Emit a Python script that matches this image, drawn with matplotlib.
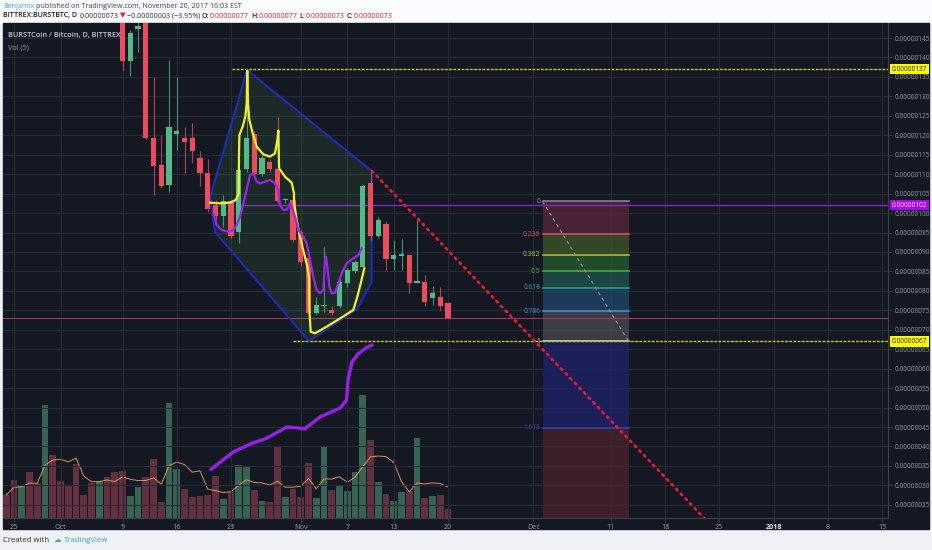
import numpy as np
import pandas as pd
import matplotlib
matplotlib.use("Agg")
import matplotlib.pyplot as plt
from matplotlib.patches import Rectangle, Polygon
from matplotlib.transforms import blended_transform_factory

W, H = 932, 550
plt.rcParams['font.family'] = ['Open Sans', 'DejaVu Sans']

# x axis: day number, 0 = 2017-09-25
tick_days = [0, 6, 14, 21, 28, 37, 43, 49, 56, 67, 77, 84, 91, 98, 105, 112]
tick_labels = ["25", "Oct", "9", "16", "23", "Nov", "7", "13", "20",
               "Dec", "11", "18", "25", "2018", "8", "15"]

# daily candles from Oct 9 (day 14) to Nov 20 (day 56), price in satoshi
c_day = list(range(14, 57))
c_open = [152.0, 139.2, 147.3, 151.0, 119.2, 112.4, 107.2, 120.2, 119.2, 119.2,
          114.1, 110.2, 102.1, 99.2, 103.1, 95.2, 111.2, 120.2, 110.0, 113.2,
          111.2, 103.3, 103.4, 95.2, 88.4, 74.2, 76.1, 75.1, 76.1, 81.9,
          85.2, 86.2, 107.7, 94.1, 97.2, 88.2, 89.0, 89.2, 82.1, 82.2,
          78.1, 78.3, 77.0]
c_high = [154.0, 147.0, 149.0, 152.0, 135.1, 120.1, 139.3, 135.1, 122.2, 123.1,
          116.0, 114.0, 103.4, 104.6, 103.4, 111.5, 136.8, 121.0, 115.0, 114.0,
          124.8, 104.0, 104.0, 96.0, 88.8, 78.5, 91.4, 76.0, 83.0, 86.0,
          88.0, 107.5, 111.0, 99.0, 98.0, 93.1, 93.3, 89.5, 98.2, 84.0,
          81.2, 81.0, 77.0]
c_low = [136.4, 135.2, 141.5, 119.0, 104.6, 106.4, 105.5, 116.2, 110.2, 112.8,
         107.0, 100.4, 98.2, 96.5, 93.5, 92.4, 110.5, 109.5, 109.5, 110.5,
         102.5, 102.5, 92.5, 86.5, 73.5, 74.0, 74.5, 73.8, 75.5, 81.0,
         84.5, 86.0, 93.0, 93.5, 85.4, 85.4, 85.4, 79.4, 82.0, 76.0,
         76.4, 75.1, 73.0]
c_close = [139.2, 146.2, 148.2, 119.3, 112.2, 107.0, 122.2, 121.1, 118.2, 116.0,
           110.2, 101.0, 99.2, 103.1, 94.1, 111.1, 119.2, 110.0, 114.1, 111.2,
           103.1, 103.4, 93.2, 87.3, 74.2, 76.4, 76.4, 74.2, 82.2, 85.4,
           87.3, 107.0, 94.1, 98.2, 88.2, 89.2, 89.1, 82.1, 82.2, 77.1,
           79.4, 76.1, 73.0]

# volume from Sep 24 (day -1) to Nov 20 (relative units)
v_day = list(range(-1, 57))
v_vol = [23.0, 38.3, 32.3, 45.7, 35.0, 113.3, 63.3, 36.7, 32.3, 54.0,
         23.3, 35.0, 37.3, 40.7, 45.7, 47.3, 22.3, 31.3, 40.7, 59.0,
         15.7, 114.7, 49.0, 29.0, 20.7, 22.3, 23.0, 42.0, 19.0, 25.7,
         53.3, 51.3, 28.3, 16.7, 15.7, 71.7, 21.3, 29.0, 20.7, 55.0,
         20.0, 70.7, 28.3, 32.3, 27.3, 45.7, 122.7, 78.0, 36.3, 24.0,
         17.3, 26.3, 27.3, 80.0, 19.7, 22.3, 23.3, 9.3]
v_up = [0, 0, 1, 0, 0, 1, 0, 0, 0, 0,
        0, 0, 1, 0, 0, 0, 1, 1, 0, 0,
        0, 1, 1, 0, 0, 0, 0, 0, 1, 0,
        1, 1, 0, 1, 0, 0, 1, 0, 0, 0,
        1, 1, 0, 1, 1, 1, 1, 0, 1, 0,
        1, 1, 0, 1, 0, 1, 0, 0]

# drawings
poly_days = [30.06, 25.29, 25.94, 38.06, 44.26, 46.15, 46.15]
poly_vals = [136.8, 103.9, 95.1, 67.1, 75.3, 82.3, 110.8]

yel_days = [25.29, 26.58, 27.87, 28.65, 28.99, 29.03, 29.08, 29.5, 29.85, 30.02,
            30.1, 30.19, 30.37, 30.8, 31.31, 32.17, 33.03, 33.68, 33.98, 34.11,
            34.2, 34.97, 35.83, 36.13, 36.13, 36.47, 36.9, 37.42, 37.85, 38.07,
            38.11, 38.28, 38.84, 40.34, 42.06, 43.78, 44.3, 44.73, 45.2]
yel_vals = [102.67, 102.5, 102.67, 103.4, 105.07, 115.35, 120.07, 122.2, 124.8, 128.2,
            136.6, 128.2, 123.9, 120.5, 117.07, 115.1, 114.5, 115.35, 118.8, 121.2,
            111.5, 109.35, 107.8, 105.07, 102.93, 98.2, 93.9, 89.65, 86.2, 83.2,
            75.08, 69.5, 69.08, 70.8, 72.9, 75.08, 78.5, 81.9, 85.8]

pur_days = [25.72, 26.15, 26.8, 27.66, 28.3, 28.73, 29.16, 29.81, 30.45, 30.88,
            31.31, 31.74, 32.39, 33.03, 33.68, 34.11, 34.32, 34.75, 35.27, 35.61,
            36.26, 36.69, 37.33, 37.76, 38.19, 38.62, 39.05, 39.48, 39.91, 40.13,
            40.26, 40.43, 40.69, 40.99, 41.42, 41.85, 42.28, 42.92, 43.78, 44.43,
            44.86]
pur_vals = [99.93, 96.93, 95.64, 95.22, 95.64, 96.93, 99.07, 104.2, 109.8, 110.2,
            108.07, 107.64, 108.07, 108.5, 107.64, 105.9, 102.07, 100.8, 100.96, 102.5,
            99.07, 95.64, 93.93, 92.2, 87.93, 83.65, 80.22, 79.36, 80.22, 87.93,
            88.79, 86.22, 81.08, 79.36, 79.53, 81.93, 84.5, 87.08, 88.36, 89.22,
            90.93]

arrow_days = [25.4, 28.3, 30.8, 32.6, 35.2, 36.5, 37.5, 39.5, 42.1, 42.9,
              43.1, 43.6, 44.4, 45.4, 46.2]
arrow_vals = [34.1, 38.6, 40.9, 42.1, 45.0, 44.8, 44.5, 47.6, 49.9, 51.9,
              57.1, 61.7, 63.8, 65.3, 66.1]

trend_days = [46.2, 90.0]
trend_vals = [110.8, 19.6]

fib_x = [68.2, 79.3]
fib_top, fib_bot = 103.0, 67.0
fib_levels = [0, 0.236, 0.382, 0.5, 0.618, 0.786, 1, 1.618]
fib_names = ["0", "0.236", "0.382", "0.5", "0.618", "0.786", "1", "1.618"]

hl_yellow_hi, hl_yellow_hi_from = 137, 28.1
hl_yellow_lo, hl_yellow_lo_from = 67, 36.0
hl_purple, hl_purple_from = 102, 29.0
last_price = 73

BG = "#141823"
UP, DN = "#53b987", "#eb4d5c"

fig = plt.figure(figsize=(W / 100, H / 100), dpi=100, facecolor="#eef1f6")
fig.patches.append(Rectangle((0, 1 - 23 / H), 1, 23 / H, transform=fig.transFigure,
                             color="#fbfcfd", zorder=-2))
fig.patches.append(Rectangle((3 / W, 1 - 529 / H), 926 / W, 506 / H,
                             transform=fig.transFigure, color=BG, zorder=-2))

ax = fig.add_axes([3 / W, 1 - 518 / H, 885 / W, 495 / H])
axv = ax.twinx()
ax.set_zorder(axv.get_zorder() + 1)
ax.patch.set_visible(False)
axv.patch.set_facecolor(BG)

ax.set_xlim(-1.42, 112.77)
ax.set_ylim(21.61, 148.86)
axv.set_ylim(0, 495)
axv.set_yticks([])
for s in axv.spines.values():
    s.set_visible(False)
for k in ["top", "left"]:
    ax.spines[k].set_visible(False)
for k in ["right", "bottom"]:
    ax.spines[k].set_color("#3b3f4a")
    ax.spines[k].set_linewidth(0.8)

yt = list(range(25, 150, 5))
ax.yaxis.tick_right()
ax.set_yticks(yt, [f"{v / 1e8:.8f}" for v in yt])
ax.set_xticks(tick_days, tick_labels)
ax.tick_params(axis="y", labelsize=4.7, labelcolor="#9598a1", color="#3b3f4a",
               length=3, width=0.6, pad=2)
ax.tick_params(axis="x", labelsize=5.2, labelcolor="#9598a1", color="#3b3f4a",
               length=3, width=0.6, pad=1.5)
ax.get_xticklabels()[13].set_fontweight("bold")
ax.get_xticklabels()[13].set_color("#e0e3eb")
ax.grid(True, color="#262b37", lw=0.8)
ax.set_axisbelow(True)

# volume + MA(5)
vcol = ["#3b6a58" if u else "#6a3341" for u in v_up]
axv.bar(v_day, v_vol, width=0.85, color=vcol, alpha=0.92)
ma = pd.Series(v_vol).rolling(5, min_periods=1).mean()
axv.plot(v_day, ma, color="#f0a050", lw=0.7, alpha=0.9)

# fibonacci box
fib_vals = [fib_top - l * (fib_top - fib_bot) for l in fib_levels]
zone_cols = ["#55283a", "#3c5428", "#255a2e", "#1f524d", "#1f4566", "#45484f", "#1f2168", "#48212b"]
edges = fib_vals + [ax.get_ylim()[0]]
for i, zc in enumerate(zone_cols):
    ax.add_patch(Rectangle((fib_x[0], edges[i + 1]), fib_x[1] - fib_x[0],
                           edges[i] - edges[i + 1], color=zc, alpha=0.8, lw=0, zorder=1))
line_cols = ["#8a8d94", "#e0545f", "#b5c23a", "#4caf50", "#26a69a", "#4d8fd6", "#d0d3da", "#3a44b0"]
for v, lc, nm in zip(fib_vals, line_cols, fib_names):
    ax.plot(fib_x, [v, v], color=lc, lw=1.1, zorder=2)
    ax.text(fib_x[0] - 0.3, v, nm, color=lc, fontsize=4.8, ha="right", va="center", zorder=3)
ax.plot(fib_x, [fib_top, fib_bot], color="#8f939c", lw=0.8, ls=(0, (3, 3)), zorder=3)

# horizontal levels
ax.plot([hl_yellow_hi_from, 113], [hl_yellow_hi] * 2, color="#caca1e", lw=1.0, ls=(0, (2, 1)), zorder=2)
ax.plot([hl_yellow_lo_from, 113], [hl_yellow_lo] * 2, color="#caca1e", lw=1.0, ls=(0, (2, 1)), zorder=2)
ax.plot([hl_purple_from, 113], [hl_purple] * 2, color="#8a22c9", lw=1.0, zorder=2)
ax.axhline(last_price, color="#b03a5c", lw=0.7, zorder=2)

# blue channel
ax.add_patch(Polygon(np.column_stack([poly_days, poly_vals]), closed=True,
                     facecolor=(0.3, 0.65, 0.3, 0.13), edgecolor="#1f2cb5", lw=1.5, zorder=2))

# candles
for d, o, h, l, c in zip(c_day, c_open, c_high, c_low, c_close):
    col = UP if c >= o else DN
    ax.vlines(d, l, h, color=col, lw=0.8, alpha=0.75, zorder=4)
    ax.bar(d, max(abs(c - o), 0.35), bottom=min(o, c), width=0.7, color=col, zorder=5)

# hand drawn lines
ax.plot(yel_days, yel_vals, color="#f4ef2d", lw=1.6, solid_joinstyle="round", zorder=6)
ax.plot(pur_days, pur_vals, color="#9b27e6", lw=1.6, solid_joinstyle="round", zorder=6)
ax.plot(arrow_days, arrow_vals, color="#9b1fe8", lw=2.4, solid_capstyle="round",
        solid_joinstyle="round", zorder=6)
ax.plot(trend_days, trend_vals, color="#e0202e", lw=2.0, ls=(0, (0.6, 1.8)),
        dash_capstyle="round", zorder=6)

# price labels on axis
tr = blended_transform_factory(ax.transAxes, ax.transData)
for v, fc, tc in [(hl_yellow_hi, "#ffff00", "#222222"), (hl_purple, "#aa00ff", "#f0f0f0"),
                  (hl_yellow_lo, "#ffff00", "#222222")]:
    ax.text(1.004, v, f"{v / 1e8:.8f}", transform=tr, fontsize=4.7, color=tc, ha="left",
            va="center", bbox=dict(boxstyle="square,pad=0.25", fc=fc, ec="none"),
            zorder=10, clip_on=False)

# texts inside chart
ax.text(5 / 885, 1 - 13 / 495, "BURSTCoin / Bitcoin, D, BITTREX", transform=ax.transAxes,
        fontsize=5.3, color="#c3c6ce", ha="left", va="center", fontweight="semibold", zorder=20)
ax.text(5 / 885, 1 - 25 / 495, "Vol (5)", transform=ax.transAxes,
        fontsize=5.3, color="#9598a1", ha="left", va="center", zorder=20)

# header and footer
renderer = fig.canvas.get_renderer()


def seq_text(x, y, parts, size):
    for s, col, wt, gap in parts:
        t = fig.text(x / W, 1 - y / H, s, color=col, fontsize=size, fontweight=wt,
                     ha="left", va="center")
        x = t.get_window_extent(renderer).x1 + gap


seq_text(3, 6, [("Benjamix", "#3aa9dc", "normal", 2.2),
                ("published on TradingView.com, November 20, 2017 16:03 EST", "#444444", "normal", 0)], 5.1)
seq_text(3, 16, [("BITTREX:BURSTBTC, D", "#222222", "semibold", 2.2),
                 ("0.00000073", "#333333", "normal", 1.5),
                 ("▼", "#e0202e", "normal", 1.5),
                 ("\u22120.00000003 (\u22123.95%)", "#333333", "normal", 2.2),
                 ("O:", "#222222", "semibold", 0.3), ("0.00000077", "#e0202e", "normal", 2.2),
                 ("H:", "#222222", "semibold", 0.3), ("0.00000077", "#e0202e", "normal", 2.2),
                 ("L:", "#222222", "semibold", 0.3), ("0.00000073", "#e0202e", "normal", 2.2),
                 ("C:", "#222222", "semibold", 0.3), ("0.00000073", "#e0202e", "normal", 0)], 5.1)
seq_text(3, 540, [("Created with", "#333333", "normal", 4),
                  ("\u2601", "#3aa9dc", "normal", 3),
                  ("TradingView", "#3aa9dc", "normal", 0)], 5.6)

fig.savefig("out.png", dpi=100, facecolor=fig.get_facecolor())
